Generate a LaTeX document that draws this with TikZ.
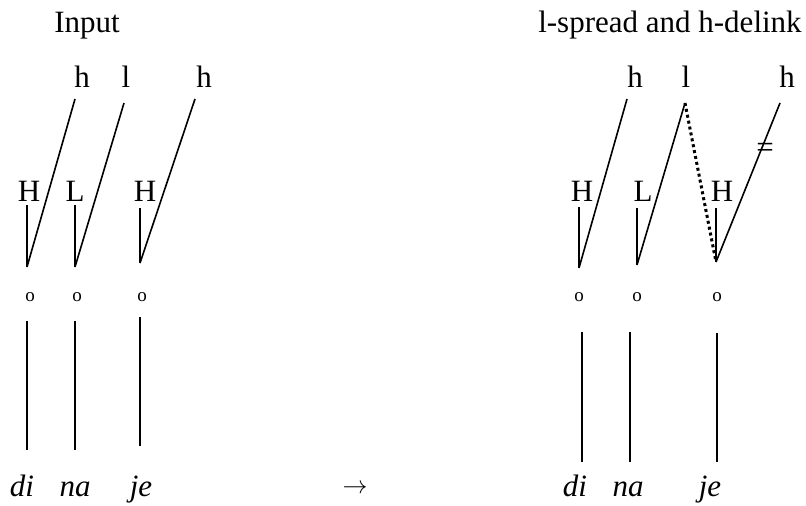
\documentclass[tikz,border=0pt]{standalone}
\usepackage{fontspec}
\setmainfont{Liberation Serif}
\begin{document}
\begin{tikzpicture}[x=1pt,y=-1pt,
  lab/.style={anchor=base,inner sep=0pt,font=\fontsize{31}{36}\selectfont},
  ital/.style={anchor=base,inner sep=0pt,font=\fontsize{31}{36}\selectfont\itshape},
  sml/.style={anchor=base,inner sep=0pt,font=\fontsize{19}{22}\selectfont},
  assoc/.style={line width=1.6pt},
  spread/.style={line width=3pt,dash pattern=on 3pt off 3pt}]
\useasboundingbox (0,0) rectangle (806,506);
% ---------- left panel ----------
\node[lab] (tin) at (87,32) {Input};
\node[lab] (h1) at (82,87) {h};
\node[lab] (l1) at (126,87) {l};
\node[lab] (h2) at (204,87) {h};
\node[lab] (H1) at (29,201) {H};
\node[lab] (L1) at (75,201) {L};
\node[lab] (H2) at (145,201) {H};
\node[sml] (o1) at (30,301) {o};
\node[sml] (o2) at (77,301) {o};
\node[sml] (o3) at (142,301) {o};
\node[ital] (w1) at (22,496) {di};
\node[ital] (w2) at (75,496) {na};
\node[ital] (w3) at (141,496) {je};
\node[inner sep=0pt,font=\fontsize{30}{36}\selectfont] (arr) at (355,489) {$\rightarrow$};
\coordinate (th1) at (75,99);
\coordinate (tl1) at (124,103);
\coordinate (th2) at (195,99);
\coordinate (tH1) at (27,205);
\coordinate (tL1) at (75,205);
\coordinate (tH2) at (140,208);
\coordinate (b1) at (27,267);
\coordinate (b2) at (75,267);
\coordinate (b3) at (140,263);
\coordinate (s1t) at (27,321); \coordinate (s1b) at (27,450);
\coordinate (s2t) at (75,321); \coordinate (s2b) at (75,450);
\coordinate (s3t) at (140,317); \coordinate (s3b) at (140,446);
\draw[assoc] (th1) -- (b1);
\draw[assoc] (tl1) -- (b2);
\draw[assoc] (th2) -- (b3);
\draw[assoc] (tH1) -- (b1);
\draw[assoc] (tL1) -- (b2);
\draw[assoc] (tH2) -- (b3);
\draw[assoc] (s1t) -- (s1b);
\draw[assoc] (s2t) -- (s2b);
\draw[assoc] (s3t) -- (s3b);
% ---------- right panel ----------
\node[lab] (tout) at (670,32) {l-spread and h-delink};
\node[lab] (rh1) at (635,87) {h};
\node[lab] (rl1) at (686,87) {l};
\node[lab] (rh2) at (787,87) {h};
\node[lab] (rH1) at (582,201) {H};
\node[lab] (rL1) at (643,201) {L};
\node[lab] (rH2) at (722,201) {H};
\node[sml] (ro1) at (579,301) {o};
\node[sml] (ro2) at (637,301) {o};
\node[sml] (ro3) at (717,301) {o};
\node[ital] (rw1) at (575,496) {di};
\node[ital] (rw2) at (628,496) {na};
\node[ital] (rw3) at (710,496) {je};
\coordinate (rth1) at (627,99);
\coordinate (rtl1) at (685,103);
\coordinate (rth2) at (780,103);
\coordinate (rtH1) at (579,207);
\coordinate (rtL1) at (637,208);
\coordinate (rtH2) at (716,208);
\coordinate (rb1) at (579,268);
\coordinate (rb2) at (637,265);
\coordinate (rb3) at (716,262);
\coordinate (rs1t) at (582,332); \coordinate (rs1b) at (582,462);
\coordinate (rs2t) at (630,332); \coordinate (rs2b) at (630,462);
\coordinate (rs3t) at (717,333); \coordinate (rs3b) at (717,462);
\draw[assoc] (rth1) -- (rb1);
\draw[assoc] (rtl1) -- (rb2);
\draw[spread] (rtl1) -- (rb3);
\draw[assoc] (rth2) -- (rb3);
\draw[assoc] (rtH1) -- (rb1);
\draw[assoc] (rtL1) -- (rb2);
\draw[assoc] (rtH2) -- (rb3);
\draw[assoc] (rs1t) -- (rs1b);
\draw[assoc] (rs2t) -- (rs2b);
\draw[assoc] (rs3t) -- (rs3b);
\node[lab,anchor=center] (cut) at (765,150) {=};
\end{tikzpicture}
\end{document}
